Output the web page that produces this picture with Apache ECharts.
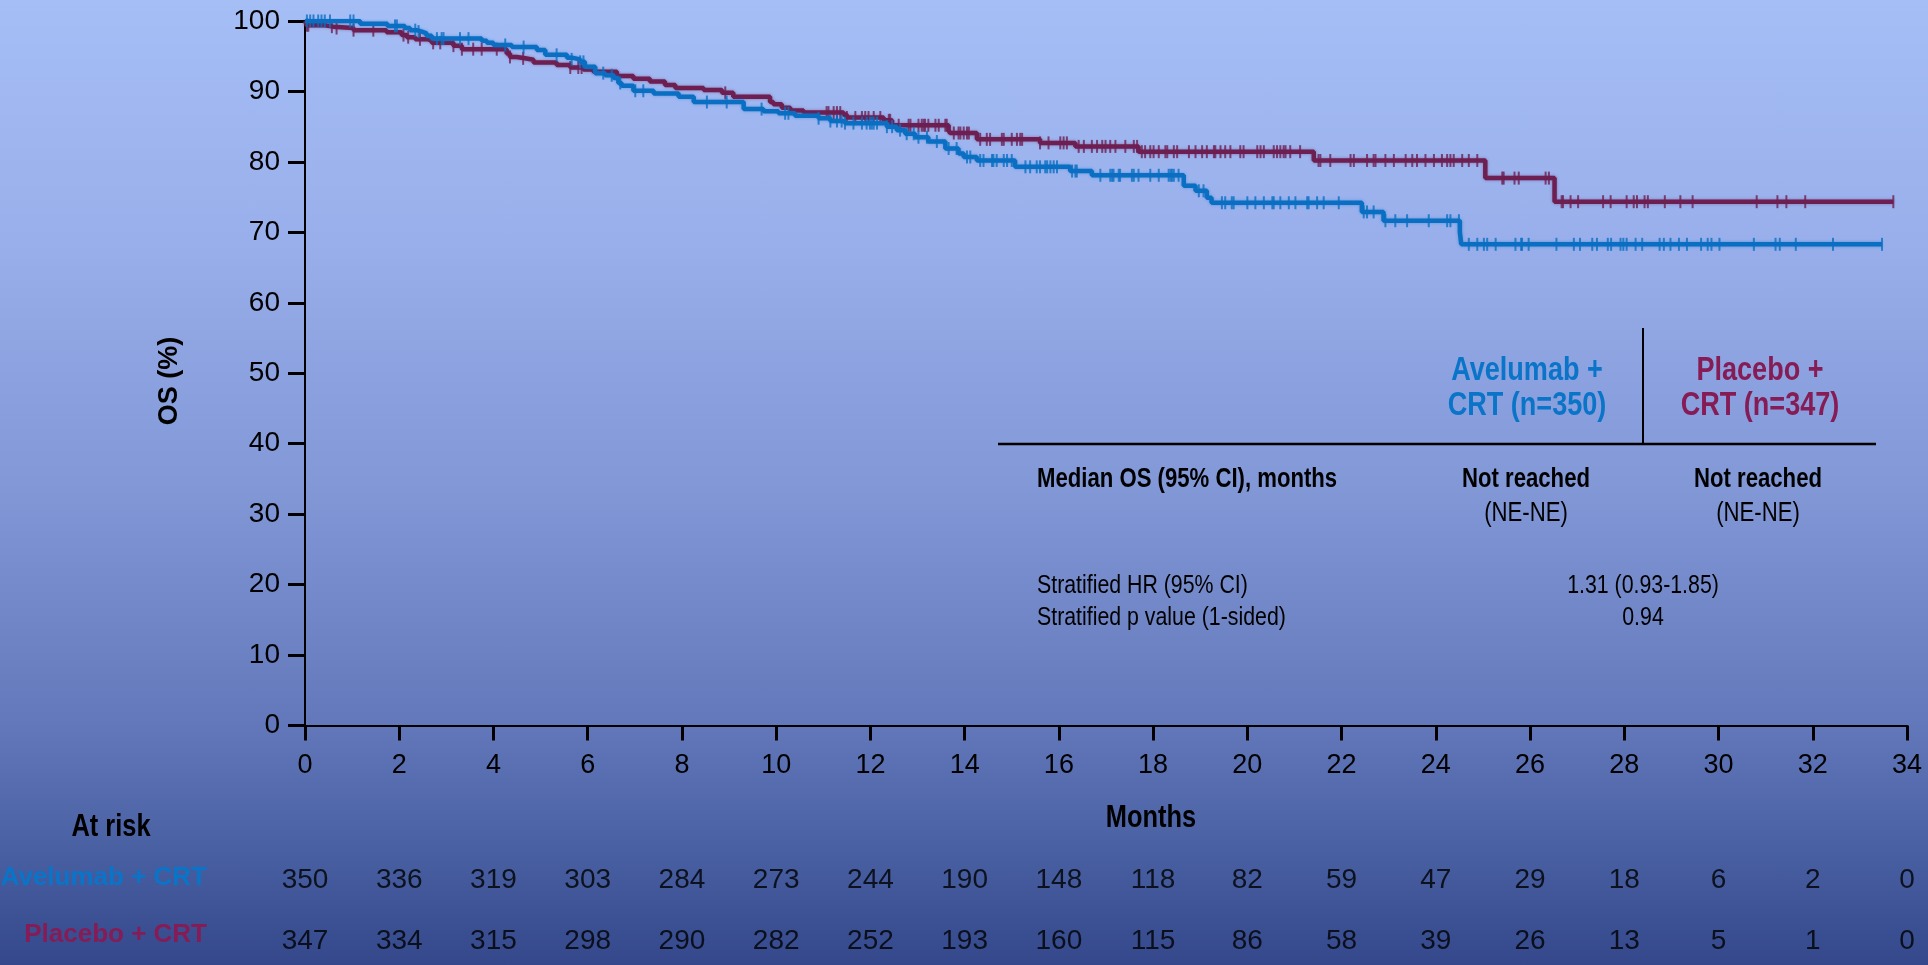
<!DOCTYPE html>
<html>
<head>
<meta charset="utf-8">
<script src="https://cdn.jsdelivr.net/npm/echarts@6/dist/echarts.min.js"></script>
<style>
html,body{margin:0;padding:0;width:1928px;height:965px;overflow:hidden;}
body{background:linear-gradient(to bottom,#a6bef6 0%,#98afeb 25%,#8298d7 50%,#6278ba 75%,#475ea0 89%,#34488b 100%);}
#chart{width:1928px;height:965px;}
</style>
</head>
<body>
<div id="chart"></div>
<script>
// ---- data ----
const monthTicks = [0,2,4,6,8,10,12,14,16,18,20,22,24,26,28,30,32,34];
const atRiskAvelumab = [350,336,319,303,284,273,244,190,148,118,82,59,47,29,18,6,2,0];
const atRiskPlacebo  = [347,334,315,298,290,282,252,193,160,115,86,58,39,26,13,5,1,0];
const rowNames = ['Placebo + CRT','Avelumab + CRT'];

// Kaplan-Meier steps [month, OS %]
const avelumabSteps = [
 [0,100],[1.17,99.6],[1.75,99.3],[2.12,99.0],[2.23,98.7],[2.37,98.5],[2.48,98.25],[2.58,97.9],[2.69,97.5],
 [3.75,97.2],[3.86,96.9],[4.0,96.6],[4.39,96.3],[4.92,95.9],[5.10,95.2],[5.56,94.8],[5.66,94.55],[5.84,94.2],
 [5.94,93.5],[6.16,92.6],[6.37,92.3],[6.55,91.9],[6.65,91.2],[6.72,90.8],[6.97,90.1],[7.40,89.7],[7.93,89.25],
 [8.25,88.5],[9.31,87.5],[9.73,87.2],[10.05,86.9],[10.40,86.55],[10.90,86.2],[11.15,85.8],[11.46,85.5],
 [12.35,85.0],[12.56,84.5],[12.74,84.0],[12.95,83.5],[13.23,82.9],[13.59,81.9],[13.87,81.2],[13.98,80.7],
 [14.26,80.2],[15.07,79.3],[16.24,78.7],[16.70,78.1],[18.65,76.6],[18.90,75.9],[19.14,74.9],[19.24,74.2],
 [22.43,72.9],[22.89,71.65],[24.51,70.0],[24.54,68.3],[33.47,68.3]
];
const placeboSteps = [
 [0,100],[0.04,99.4],[0.42,99.2],[0.60,99.0],[1.03,98.7],[1.73,98.4],[2.05,98.0],[2.16,97.7],[2.34,97.4],
 [2.62,97.2],[2.69,96.9],[3.15,96.5],[3.33,96.0],[4.28,95.4],[4.35,94.9],[4.49,94.7],[4.67,94.5],[4.85,94.1],
 [5.34,93.75],[5.63,93.4],[5.91,93.1],[6.12,92.8],[6.62,92.2],[6.97,91.8],[7.32,91.4],[7.64,90.9],[7.86,90.5],
 [8.46,90.2],[8.85,89.8],[9.09,89.25],[9.87,88.5],[9.94,88.2],[10.12,87.7],[10.30,87.3],[10.58,87.0],
 [11.43,86.7],[11.50,86.3],[12.28,85.9],[12.46,85.2],[13.66,84.5],[13.69,84.1],[14.26,83.2],[15.60,82.7],
 [16.35,82.2],[17.69,81.45],[21.41,80.2],[25.05,77.7],[26.52,74.35],[33.71,74.35]
];

// censoring times (months)
const avelumabCensor = [0.04,0.11,0.18,0.28,0.35,0.42,0.53,0.96,1.03,1.91,1.95,2.34,2.41,2.80,2.90,2.94,3.29,3.47,
 4.25,4.64,5.34,5.66,5.84,5.91,6.33,6.51,6.69,7.01,7.18,8.53,8.95,9.69,10.19,10.26,10.90,11.15,11.29,11.39,11.46,
 11.64,11.82,11.92,11.99,12.03,12.07,12.14,12.35,12.46,12.63,12.77,12.92,13.02,13.20,13.41,13.66,13.83,14.05,14.12,
 14.33,14.40,14.58,14.61,14.68,14.83,14.90,15.00,15.29,15.39,15.53,15.60,15.71,15.75,15.82,15.89,15.96,16.28,16.35,
 16.38,16.88,17.09,17.13,17.16,17.27,17.30,17.55,17.59,17.69,17.94,18.12,18.33,18.37,18.40,18.44,18.54,18.97,19.07,
 19.46,19.53,19.67,19.71,20.0,20.17,20.35,20.53,20.56,20.70,20.88,21.02,21.27,21.30,21.48,21.62,21.94,22.47,22.54,
 22.68,22.93,23.14,23.39,23.85,24.24,24.31,24.49,24.70,24.88,25.02,25.09,25.27,25.69,25.81,25.83,25.97,26.56,26.93,
 27.06,27.32,27.42,27.65,27.72,27.92,27.98,28.05,28.24,28.38,28.75,28.84,28.98,29.16,29.33,29.63,29.77,29.85,30.02,
 30.75,31.21,31.30,31.64,32.43,33.47];
const placeboCensor = [0.04,0.07,0.57,0.67,1.03,1.45,2.09,2.19,2.44,2.72,2.87,3.15,3.33,3.57,3.75,4.07,4.35,4.63,5.63,
 5.80,5.87,8.92,11.07,11.11,11.22,11.29,11.36,11.50,11.68,11.82,11.89,11.96,12.07,12.21,12.39,12.42,12.60,12.81,12.85,
 13.02,13.09,13.13,13.16,13.23,13.38,13.45,13.59,13.62,13.77,13.87,13.91,13.98,14.05,14.09,14.33,14.47,14.54,14.79,
 14.83,15.00,15.11,15.18,15.22,15.60,15.78,16.03,16.10,16.17,16.42,16.53,16.70,16.81,16.92,16.99,17.09,17.20,17.41,
 17.59,17.66,17.76,17.83,17.94,18.01,18.12,18.26,18.30,18.44,18.51,18.76,18.90,19.04,19.14,19.29,19.32,19.43,19.53,
 19.64,19.85,19.92,20.21,20.28,20.35,20.56,20.63,20.70,20.77,20.81,20.91,21.12,21.51,21.55,21.76,22.19,22.26,22.54,
 22.68,22.72,22.93,23.11,23.36,23.50,23.60,23.78,23.96,24.13,24.24,24.31,24.38,24.56,24.70,24.88,25.41,25.44,25.67,
 25.76,26.33,26.40,26.67,26.70,26.86,27.02,27.55,27.71,28.05,28.20,28.27,28.43,28.50,28.86,29.19,29.45,30.81,31.25,
 31.44,31.84,33.71];

// ---- build ----
const BLUE = '#0a6fc2', MAROON = '#6d1f52';
const BLUE_TXT = '#0a74c8', MAROON_TXT = '#861c56';
const ARIAL = '"Liberation Sans",Arial,sans-serif';

function survAt(steps, t){
  let s = steps[0][1];
  for (const p of steps){ if (p[0] <= t) s = p[1]; else break; }
  return s;
}
const censorData = (steps, times) => times.map(t => [t, survAt(steps, t)]);

const riskData = [];
monthTicks.forEach((m,i)=>{
  riskData.push({value:[m, rowNames[1], atRiskAvelumab[i]], label:{offset:[0,3]}});
  riskData.push({value:[m, rowNames[0], atRiskPlacebo[i]], label:{offset:[0,7]}});
});

const chart = echarts.init(document.getElementById('chart'), null, {renderer:'canvas'});
// narrow-looking text: Liberation Sans squeezed horizontally
const txt = (x,y,text,font,opt) => Object.assign({type:'text', x, y, scaleX:0.82,
  style:Object.assign({text, fill:'#000', align:'center', verticalAlign:'middle', font:font+' "Liberation Sans",Arial,sans-serif'}, opt||{})});

chart.setOption({
  animation:false,
  backgroundColor:'transparent',
  grid:[
    {left:305, right:21, top:21, bottom:239.5, containLabel:false, outerBoundsMode:'none'},
    {left:305, right:21, top:849, height:114, containLabel:false, outerBoundsMode:'none'}
  ],
  xAxis:[
    {type:'value', gridIndex:0, min:0, max:34, interval:2,
     axisLine:{show:true, onZero:false, lineStyle:{color:'#000', width:2}},
     axisTick:{show:true, length:15, lineStyle:{color:'#000', width:3}},
     axisLabel:{margin:27, fontSize:27, fontFamily:ARIAL, color:'#000'},
     splitLine:{show:false}},
    {type:'value', gridIndex:1, min:0, max:34, show:false}
  ],
  yAxis:[
    {type:'value', gridIndex:0, min:0, max:100, interval:10,
     axisLine:{show:true, lineStyle:{color:'#000', width:2}},
     axisTick:{show:true, length:17, lineStyle:{color:'#000', width:3}},
     axisLabel:{margin:25, fontSize:28, fontFamily:ARIAL, color:'#000'},
     splitLine:{show:false}},
    {type:'category', gridIndex:1, data:rowNames,
     axisLine:{show:false}, axisTick:{show:false}, splitLine:{show:false},
     axisLabel:{margin:98, fontSize:26, fontWeight:'bold', fontFamily:ARIAL,
       color:(v)=> v===rowNames[1] ? BLUE_TXT : MAROON_TXT}}
  ],
  series:[
    {type:'line', name:'Placebo + CRT', step:'end', data:placeboSteps, showSymbol:false, z:2,
     lineStyle:{color:MAROON, width:4.5, shadowColor:'rgba(109,31,82,0.45)', shadowBlur:3}},
    {type:'scatter', data:censorData(placeboSteps, placeboCensor), symbol:'rect', symbolSize:[2,13], z:2,
     itemStyle:{color:MAROON}},
    {type:'line', name:'Avelumab + CRT', step:'end', data:avelumabSteps, showSymbol:false, z:3,
     lineStyle:{color:BLUE, width:4.5, shadowColor:'rgba(10,111,194,0.45)', shadowBlur:3}},
    {type:'scatter', data:censorData(avelumabSteps, avelumabCensor), symbol:'rect', symbolSize:[2,13], z:3,
     itemStyle:{color:BLUE}},
    {type:'scatter', xAxisIndex:1, yAxisIndex:1, data:riskData, symbolSize:0,
     label:{show:true, position:'inside', formatter:(p)=> String(p.value[2]), fontSize:28, fontFamily:ARIAL, color:'#000'}}
  ],
  graphic:[
    Object.assign(txt(170, 381, 'OS (%)', 'bold 27px'), {rotation:Math.PI/2, scaleX:1}),
    txt(1151, 818, 'Months', 'bold 31px'),
    txt(111, 827, 'At risk', 'bold 31px'),
    {type:'line', shape:{x1:998, y1:444, x2:1876, y2:444}, style:{stroke:'#000', lineWidth:2.5}},
    {type:'line', shape:{x1:1643, y1:328, x2:1643, y2:444}, style:{stroke:'#000', lineWidth:2}},
    txt(1527, 371, 'Avelumab +', 'bold 33px', {fill:BLUE_TXT}),
    txt(1527, 406, 'CRT (n=350)', 'bold 33px', {fill:BLUE_TXT}),
    txt(1760, 371, 'Placebo +', 'bold 33px', {fill:MAROON_TXT}),
    txt(1760, 406, 'CRT (n=347)', 'bold 33px', {fill:MAROON_TXT}),
    txt(1037, 480, 'Median OS (95% CI), months', 'bold 27px', {align:'left'}),
    txt(1526, 480, 'Not reached', 'bold 27px'),
    txt(1526, 514, '(NE-NE)', '27px'),
    txt(1758, 480, 'Not reached', 'bold 27px'),
    txt(1758, 514, '(NE-NE)', '27px'),
    txt(1037, 586, 'Stratified HR (95% CI)', '26px', {align:'left'}),
    txt(1037, 618, 'Stratified p value (1-sided)', '26px', {align:'left'}),
    txt(1643, 586, '1.31 (0.93-1.85)', '26px'),
    txt(1643, 618, '0.94', '26px')
  ]
});
</script>
</body>
</html>
